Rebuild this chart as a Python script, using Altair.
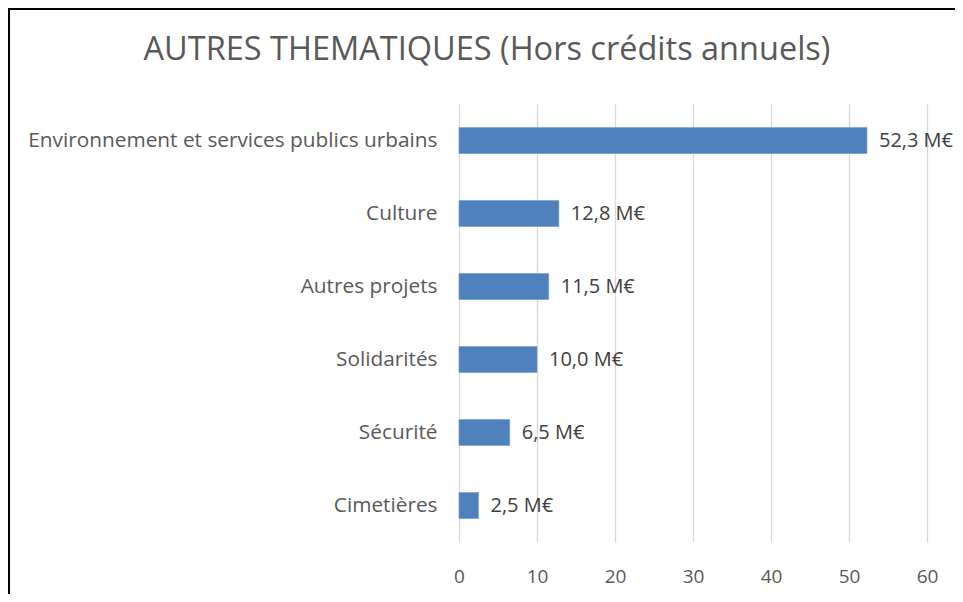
import altair as alt
import pandas as pd

title_text = "AUTRES THEMATIQUES (Hors crédits annuels)"
categories = [
    "Environnement et services publics urbains",
    "Culture",
    "Autres projets",
    "Solidarités",
    "Sécurité",
    "Cimetières",
]
values = [52.3, 12.8, 11.5, 10.0, 6.5, 2.5]
x_ticks = [0, 10, 20, 30, 40, 50, 60]

df = pd.DataFrame({"cat": categories, "val": values})
df["label"] = [f"{v:.1f}".replace(".", ",") + " M€" for v in values]

FONT = "Open Sans"
W, H = 468, 438

x_enc = alt.X(
    "val:Q",
    scale=alt.Scale(domain=[0, 60], nice=False),
    axis=alt.Axis(
        values=x_ticks, title=None, domain=False, ticks=False,
        grid=True, gridColor="#D9D9D9", gridWidth=1.3,
        labelFont=FONT, labelFontSize=19, labelColor="#595959",
        labelPadding=25, labelFlush=False,
    ),
)
y_enc = alt.Y(
    "cat:N", sort=categories,
    scale=alt.Scale(paddingInner=0.644, paddingOuter=0.322),
    axis=alt.Axis(
        title=None, domain=False, ticks=False,
        labelFont=FONT, labelFontSize=20.8, labelColor="#595959",
        labelPadding=22, labelLimit=600,
    ),
)

bars = alt.Chart(df).mark_bar(color="#4F81BD", stroke="#6F9AD0", strokeWidth=0.6).encode(
    x=x_enc, y=y_enc
)
labels = alt.Chart(df).mark_text(
    align="left", baseline="middle", dx=12, font=FONT, fontSize=20, color="#404040"
).encode(x="val:Q", y=alt.Y("cat:N", sort=categories), text="label:N")

frame_df = pd.DataFrame({"k": [0]})
title_df = pd.DataFrame({"t": [title_text]})
title_mark = alt.Chart(title_df).mark_text(
    align="center", baseline="middle", font=FONT, fontSize=32.5, color="#595959"
).encode(x=alt.value(28), y=alt.value(-54), text="t:N")

left_line = alt.Chart(frame_df).mark_rule(color="black", strokeWidth=2).encode(
    x=alt.value(-450), y=alt.value(-95), y2=alt.value(H + 52)
)
top_line = alt.Chart(frame_df).mark_rule(color="black", strokeWidth=2).encode(
    x=alt.value(-451), x2=alt.value(W + 28), y=alt.value(-95)
)

chart = alt.layer(bars, labels, title_mark, left_line, top_line).properties(
    width=W, height=H,
    autosize=alt.AutoSizeParams(type="none"),
    padding={"left": 451, "top": 96, "right": 28, "bottom": 52},
    background="white",
).configure_view(stroke=None)

chart.save("out.html", embed_options={"renderer": "svg", "actions": False})
